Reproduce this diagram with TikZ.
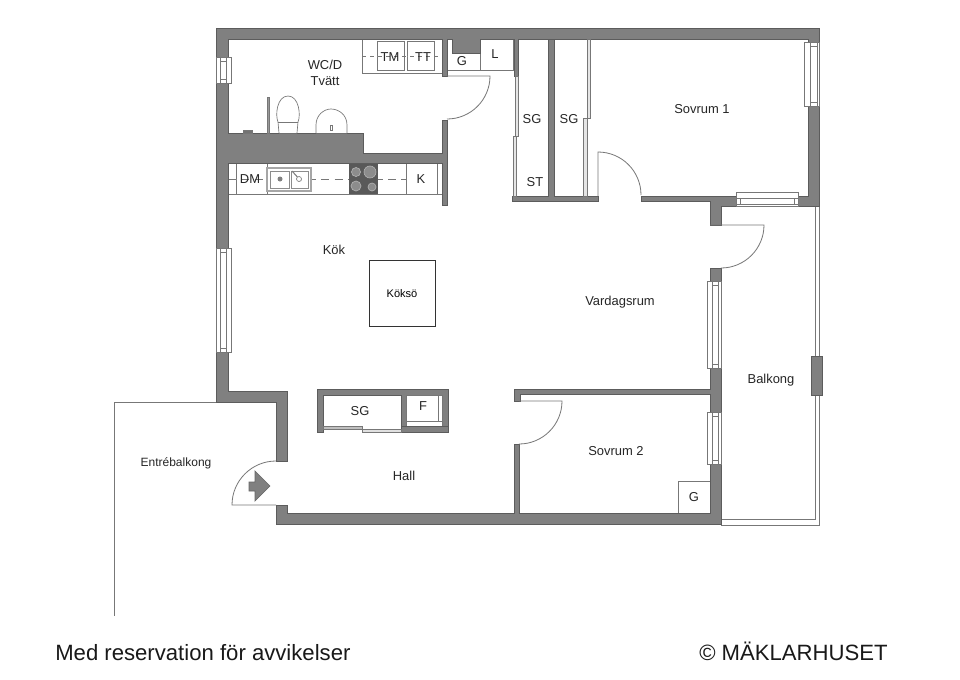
\documentclass[tikz,border=0pt]{standalone}
\usepackage{fontspec}
\setmainfont{Liberation Sans}
\usetikzlibrary{positioning}
\definecolor{wallgray}{HTML}{808080}
\definecolor{wallline}{HTML}{5C5C5C}
\definecolor{fixline}{HTML}{777777}
\tikzset{x=0.75pt,y=-0.75pt, % One unit is one pixel of the reference
      wall/.style={ % Sets the properties for each wall piece
      fill=wallgray,
      draw=wallline,
      line width=0.5pt},
      fixture/.style={ % Cupboards, windows and the like
      draw=fixline,
      fill=white,
      line width=0.5pt},
      leaf/.style={ % Door leaves and their arcs
      draw=fixline,
      line width=0.6pt},
      room/.style={font=\fontsize{9.7}{11}\selectfont, text=black!85, inner sep=0pt},
      small/.style={font=\fontsize{9}{11}\selectfont, text=black!85, inner sep=0pt},
      foot/.style={font=\fontsize{16.6}{20}\selectfont, text=black!90, inner sep=0pt}}

\begin{document}
\begin{tikzpicture}
      \useasboundingbox (0,0) rectangle (960,679);
      \fill[white] (0,0) rectangle (960,679);
      % entrance balcony outline
      \coordinate (ebTop) at (216,402);
      \coordinate (ebCorner) at (114,402);
      \coordinate (ebEnd) at (114,616);
      \draw[leaf] (ebTop) -- (ebCorner) -- (ebEnd);
      % balcony rail
      \draw[fixture, fill=none] (721,206) -- (819,206) -- (819,525) -- (721,525);
      \draw[fixture, fill=none] (815,206) -- (815,519) -- (721,519);
      % fixtures below the walls
      \draw[fixture] (362,39) rectangle (442,73);
      \draw[fixture] (377,41) rectangle (404,70);
      \draw[fixture] (407,41) rectangle (434,70);
      \draw[fixture, dashed] (362,56) -- (442,56);
      \draw[fixture] (447,39) rectangle (480,70);
      \draw[fixture] (480,39) rectangle (513,70);
      \draw[fixture] (228,163) rectangle (442,194);
      \foreach \xpos in {236,267,406,437}
            \draw[fixture] (\xpos,163) -- (\xpos,194);
      \draw[fixture, dashed, dash pattern=on 6pt off 4pt] (228,179) -- (406,179);
      \draw[fixture, line width=1pt, draw=black!35] (267,168) rectangle (311,191);
      \draw[fixture, draw=black!45] (270,171) rectangle (289,188);
      \draw[fixture, draw=black!45] (291,171) rectangle (308,188);
      \fill[black!50] (280,179) circle (2.5);
      \draw[black!50, line width=0.8pt] (292,171) -- (301,181);
      \draw[black!50, fill=white, line width=0.5pt] (299,179) circle (2.5);
      \fill[black!65] (349,163) rectangle (378,194);
      \foreach \xpos/\ypos/\rad in {356/172/4.5,370/172/6,356/186/5,372/187/4}
            \draw[black!30, fill=black!45, line width=0.5pt] (\xpos,\ypos) circle (\rad);
      \draw[fixture] (678,481) rectangle (710,513);
      % walls
      \draw[wall] (216,28) -- (819,28) -- (819,206) -- (798,206) -- (798,196) -- (808,196)
            -- (808,39) -- (518,39) -- (518,76) -- (514,76) -- (514,39) -- (480,39) -- (480,53)
            -- (452,53) -- (452,39) -- (447,39) -- (447,76) -- (442,76) -- (442,39) -- (228,39)
            -- (228,133) -- (363,133) -- (363,153) -- (442,153) -- (442,120) -- (447,120)
            -- (447,205) -- (442,205) -- (442,163) -- (228,163) -- (228,391) -- (287,391)
            -- (287,461) -- (276,461) -- (276,402) -- (216,402) -- cycle;
      \draw[wall] (276,505) -- (287,505) -- (287,513) -- (514,513) -- (514,444) -- (519,444)
            -- (519,513) -- (710,513) -- (710,394) -- (520,394) -- (520,401) -- (514,401)
            -- (514,389) -- (710,389) -- (710,268) -- (721,268) -- (721,524) -- (276,524) -- cycle;
      \draw[wall] (512,196) -- (548,196) -- (548,39) -- (554,39) -- (554,196) -- (598,196)
            -- (598,201) -- (512,201) -- cycle;
      \draw[wall] (641,196) -- (798,196) -- (798,206) -- (721,206) -- (721,225) -- (710,225)
            -- (710,201) -- (641,201) -- cycle;
      \draw[wall] (811,356) rectangle (822,395);
      % storage block in the hall
      \draw[wall] (317,389) -- (448,389) -- (448,432) -- (401,432) -- (401,395) -- (323,395)
            -- (323,432) -- (317,432) -- cycle;
      \draw[fixture] (406,395) rectangle (442,426);
      \draw[fixture] (406,421) -- (442,421);
      \draw[fixture] (438,395) -- (438,421);
      \draw[wall] (401,426) rectangle (448,432);
      \draw[fixture, fill=black!25] (323,426) rectangle (362,429);
      \draw[fixture, fill=black!12] (362,429) rectangle (401,432);
      % sliding doors of the closets
      \draw[fixture, fill=black!10] (515,76) rectangle (518,136);
      \draw[fixture, fill=black!10] (513,136) rectangle (516,196);
      \draw[fixture, fill=black!10] (587,39) rectangle (590,118);
      \draw[fixture, fill=black!10] (583,118) rectangle (587,196);
      % windows
      \foreach \xa/\xb/\xc/\xd/\ya/\yb in {216/231/220/226/57/83, 216/231/220/226/248/352,
            804/819/810/817/42/106, 707/721/712/718/281/368, 707/721/712/718/412/464}{
            \draw[fixture] (\xa,\ya) rectangle (\xb,\yb);
            \draw[fixture] (\xc,\ya) rectangle (\xd,\yb);
            \draw[fixture] (\xc,\ya+4) -- (\xd,\ya+4) (\xc,\yb-4) -- (\xd,\yb-4);
      }
      \draw[fixture] (736,192) rectangle (798,206);
      \draw[fixture] (736,198) rectangle (798,204);
      \draw[fixture] (740,198) -- (740,204) (794,198) -- (794,204);
      % doors
      \coordinate (wcHinge) at (447,76);
      \coordinate (wcFree) at (490,76);
      \draw[leaf] (wcHinge) -- (wcFree) arc[start angle=0, end angle=90, radius=43];
      \coordinate (bedOneHinge) at (598,196);
      \coordinate (bedOneFree) at (598,152);
      \draw[leaf] (bedOneHinge) -- (bedOneFree) arc[start angle=-90, end angle=0, radius=43];
      \coordinate (balHinge) at (710,225);
      \coordinate (balFree) at (764,225);
      \draw[leaf] (balHinge) -- (balFree) arc[start angle=0, end angle=90, radius=43];
      \coordinate (bedTwoHinge) at (519,401);
      \coordinate (bedTwoFree) at (562,401);
      \draw[leaf] (bedTwoHinge) -- (bedTwoFree) arc[start angle=0, end angle=90, radius=43];
      \coordinate (entryHinge) at (276,505);
      \coordinate (entryFree) at (232,505);
      \draw[leaf] (entryHinge) -- (entryFree) arc[start angle=180, end angle=270, radius=44];
      \draw[wall, draw=black!60] (255,471) -- (270,486) -- (255,501) -- (255,491) -- (249,491)
            -- (249,482) -- (255,482) -- cycle;
      % WC fittings
      \draw[fixture, fill=black!40] (267,97) rectangle (269,133);
      \draw[fixture] (279,133) -- (278,122) .. controls (275,115) and (277,96) .. (288,96)
            .. controls (299,96) and (301,115) .. (298,122) -- (297,133);
      \draw[fixture] (278,122) -- (298,122);
      \draw[fixture] (316,133) -- (316,125) .. controls (316,115) and (324,109) .. (331,109)
            .. controls (339,109) and (347,115) .. (347,125) -- (347,133);
      \draw[fixture] (330,125) rectangle (332,130);
      \draw[fixture, fill=black!55] (243,130) rectangle (252,133);
      % kitchen island
      \node[draw=black!80, line width=0.6pt, minimum width=49.5pt, minimum height=49.5pt, inner sep=0pt,
            font=\fontsize{8.3}{10}\selectfont] (koksoe) at (402,293.5) {Köksö};
      % labels
      \node[room] (wcd) at (325,65) {WC/D};
      \node[room, below=4.5pt of wcd] (tvatt) {Tvätt};
      \node[room] (tm) at (390,57) {TM};
      \node[room] (tt) at (423,57) {TT};
      \node[room] (gtop) at (462,61) {G};
      \node[room] (lbox) at (495,54) {L};
      \node[room] (dm) at (250,179) {DM};
      \node[room] (kbox) at (421,179) {K};
      \node[room] (sgone) at (532,119) {SG};
      \node[room] (sgtwo) at (569,119) {SG};
      \node[room] (st) at (535,182) {ST};
      \node[room] (sovone) at (702,109) {Sovrum 1};
      \node[room] (kok) at (334,250) {Kök};
      \node[room] (vardag) at (620,302) {Vardagsrum};
      \node[room] (balkong) at (771,380) {Balkong};
      \node[room] (sovtwo) at (616,451) {Sovrum 2};
      \node[room] (gbox) at (694,497) {G};
      \node[room] (hall) at (404,476) {Hall};
      \node[room] (sghall) at (360,411) {SG};
      \node[room] (fbox) at (423,406) {F};
      \node[small] (entre) at (176,463) {Entrébalkong};
      \node[foot, anchor=base west] (reserv) at (55,660) {Med reservation för avvikelser};
      \node[foot, anchor=base east] (maklar) at (888,660) {© MÄKLARHUSET};
\end{tikzpicture}
\end{document}
